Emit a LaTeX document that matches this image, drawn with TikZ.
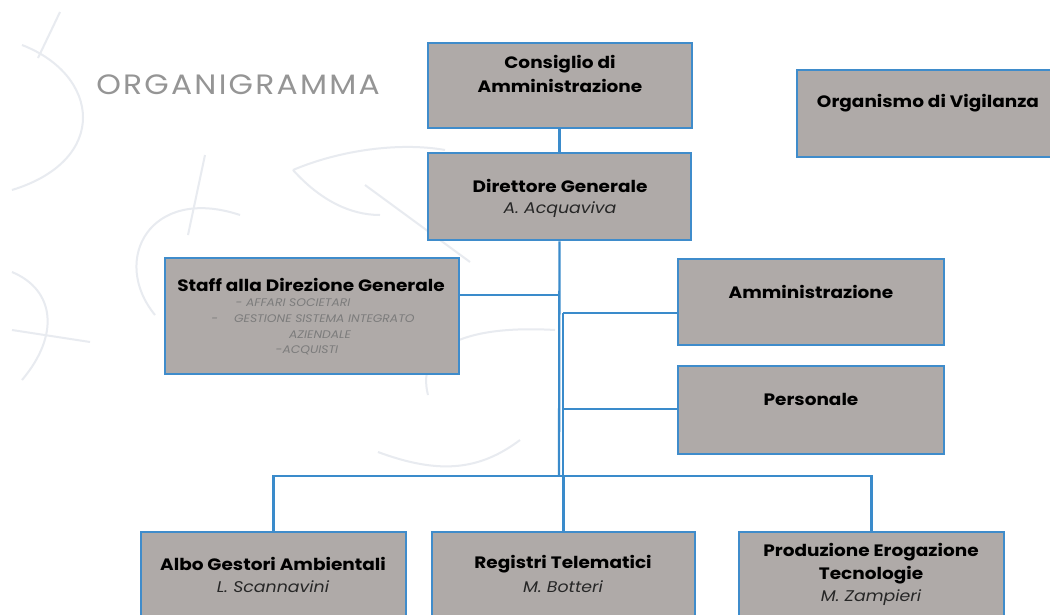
\documentclass[tikz,border=0pt]{standalone}
\usepackage{fontspec}
\setmainfont{Poppins}[FakeStretch=1.12]
\definecolor{boxfill}{HTML}{AFAAA8}
\definecolor{boxline}{HTML}{3F8CCB}
\definecolor{connc}{HTML}{3A8BCB}
\definecolor{leaf}{HTML}{E8EBF0}
\definecolor{titlegray}{HTML}{959595}
\definecolor{subgray}{HTML}{7C7C7C}
\begin{document}
\begin{tikzpicture}[x=1pt,y=-1pt,
  orgbox/.style={draw=boxline, line width=2.7pt, fill=boxfill, rectangle, inner sep=0pt},
  connline/.style={draw=connc, line width=2.3pt},
  leafline/.style={draw=leaf, line width=2pt},
  lbl/.style={font=\bfseries\fontsize{16.5}{24}\selectfont, align=center, inner sep=0pt, text=black},
  nm/.style={font=\mdseries\itshape\fontsize{15.5}{24}\selectfont, inner sep=0pt, text=black!85},
  sub/.style={font=\itshape\fontsize{11}{12}\selectfont, inner sep=0pt, text=subgray},
]
\useasboundingbox (0,0) rectangle (1050,614);
\clip (0,0) rectangle (1050,614);
\fill[white] (0,0) rectangle (1050,614);

% background leaves
\draw[leafline] (60,12) -- (38,58);
\draw[leafline] (22,45) .. controls (100,75) and (110,160) .. (12,190);
\draw[leafline] (12,272) .. controls (55,290) and (60,335) .. (22,380);
\draw[leafline] (12,330) -- (90,342);
\draw[leafline] (205,155) -- (188,235);
\draw[leafline] (240,215) .. controls (150,185) and (110,260) .. (155,315);
\draw[leafline] (293,170) .. controls (340,150) and (400,142) .. (445,150);
\draw[leafline] (293,170) .. controls (320,200) and (350,215) .. (380,215);
\draw[leafline] (365,185) -- (470,262);
\draw[leafline] (428,395) .. controls (415,345) and (470,325) .. (555,330);
\draw[leafline] (378,452) .. controls (440,475) and (480,470) .. (520,440);

\node[font=\fontsize{28}{32}\selectfont\addfontfeature{LetterSpace=8}, text=titlegray, inner sep=0pt] (title) at (238,85) {ORGANIGRAMMA};

% boxes
\node[orgbox, minimum width=264pt, minimum height=85pt] (cda) at (560,85.5) {};
\node[orgbox, minimum width=263pt, minimum height=87pt] (dg) at (559.5,196.5) {};
\node[orgbox, minimum width=268pt, minimum height=87pt] (odv) at (931,113.5) {};
\node[orgbox, minimum width=294pt, minimum height=116pt] (staff) at (312,316) {};
\node[orgbox, minimum width=266pt, minimum height=86pt] (amm) at (811,302) {};
\node[orgbox, minimum width=266pt, minimum height=88pt] (pers) at (811,410) {};
\node[orgbox, minimum width=265pt, minimum height=93pt] (albo) at (273.5,578.5) {};
\node[orgbox, minimum width=263pt, minimum height=93pt] (reg) at (563.5,578.5) {};
\node[orgbox, minimum width=265pt, minimum height=93pt] (prod) at (871.5,578.5) {};

% texts
\node[lbl] (cda-t) at (560,74) {Consiglio di\\Amministrazione};
\node[lbl] (dg-t) at (560,186) {Direttore Generale};
\node[nm] (dg-n) at (560,210) {A. Acquaviva};
\node[lbl] (odv-t) at (928,103) {Organismo di Vigilanza};
\node[lbl] (staff-t) at (311,285) {Staff alla Direzione Generale};
\node[sub] (st1) at (293,303) {- AFFARI SOCIETARI};
\node[sub] (st2) at (313,319) {-\hspace{16pt}GESTIONE SISTEMA INTEGRATO};
\node[sub] (st3) at (320,335) {AZIENDALE};
\node[sub] (st4) at (307,350) {-ACQUISTI};
\node[lbl] (amm-t) at (811,292) {Amministrazione};
\node[lbl] (pers-t) at (811,399) {Personale};
\node[lbl] (albo-t) at (273,564) {Albo Gestori Ambientali};
\node[nm] (albo-n) at (273,587) {L. Scannavini};
\node[lbl] (reg-t) at (563,564) {Registri Telematici};
\node[nm] (reg-n) at (563,587) {M. Botteri};
\node[lbl] (prod-t) at (871,552) {Produzione Erogazione};
\node[lbl] (prod-t2) at (871,575) {Tecnologie};
\node[nm] (prod-n) at (871,598) {M. Zampieri};

% connectors
\coordinate (spine) at (559,476);
\coordinate (sj) at (559,295);
\coordinate (s2top) at (563,313);
\coordinate (s2bot) at (563,476);
\coordinate (pj) at (563,409);
\draw[connline] (cda.south) -- (dg.south |- cda.south) -- (dg.north);
\draw[connline] (dg.south) -- (spine);
\draw[connline] (sj) -- (staff.east |- sj);
\draw[connline] (s2top) -- (s2bot);
\draw[connline] (s2top) -- (amm.west |- s2top);
\draw[connline] (pj) -- (pers.west |- pj);
\draw[connline] (albo.north) -- (albo.north |- spine) -- (prod.north |- spine) -- (prod.north);
\draw[connline] (reg.north |- spine) -- (reg.north);
\end{tikzpicture}
\end{document}
